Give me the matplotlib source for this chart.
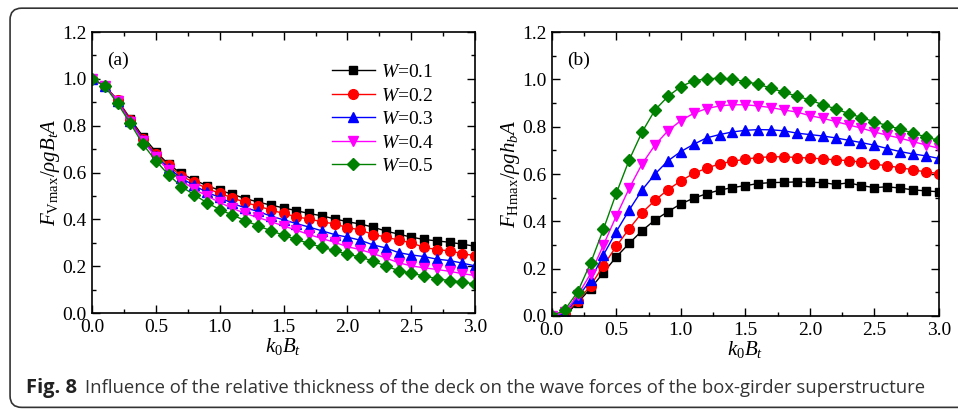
import numpy as np
import matplotlib
matplotlib.use("Agg")
import matplotlib.pyplot as plt
from matplotlib import font_manager as fm
from matplotlib.patches import FancyBboxPatch
from matplotlib.ticker import MultipleLocator, FormatStrFormatter

# pick up Liberation Serif by file, in case the family name lookup misses
for f in fm.findSystemFonts():
    if 'LiberationSerif' in f.replace(' ', ''):
        fm.fontManager.addfont(f)
serif_names = sorted({f.name for f in fm.fontManager.ttflist if 'Liberation Serif' in f.name})
serif = serif_names[0] if serif_names else 'DejaVu Serif'

plt.rcParams['font.family'] = [serif, 'DejaVu Serif']
plt.rcParams['mathtext.fontset'] = 'custom'
plt.rcParams['mathtext.rm'] = serif
plt.rcParams['mathtext.it'] = serif + ':italic'
plt.rcParams['mathtext.bf'] = serif + ':bold'

# k0*Bt values (same for every series)
kb = [0.0, 0.1, 0.2, 0.3, 0.4, 0.5, 0.6, 0.7, 0.8, 0.9, 1.0,
      1.1, 1.2, 1.3, 1.4, 1.5, 1.6, 1.7, 1.8, 1.9, 2.0,
      2.1, 2.2, 2.3, 2.4, 2.5, 2.6, 2.7, 2.8, 2.9, 3.0]

w_labels = ['0.1', '0.2', '0.3', '0.4', '0.5']

# (a) vertical force
fv_w1 = [1.0, 0.97, 0.91, 0.83, 0.753, 0.689, 0.635, 0.596, 0.568, 0.544, 0.524,
         0.507, 0.489, 0.474, 0.461, 0.449, 0.437, 0.425, 0.415, 0.402, 0.390,
         0.380, 0.367, 0.350, 0.337, 0.324, 0.314, 0.308, 0.302, 0.294, 0.285]
fv_w2 = [1.0, 0.97, 0.91, 0.825, 0.745, 0.68, 0.63, 0.585, 0.558, 0.532, 0.511,
         0.492, 0.472, 0.457, 0.440, 0.425, 0.411, 0.401, 0.390, 0.380, 0.365,
         0.355, 0.335, 0.325, 0.311, 0.300, 0.280, 0.271, 0.265, 0.254, 0.244]
fv_w3 = [1.0, 0.97, 0.905, 0.82, 0.74, 0.67, 0.62, 0.575, 0.545, 0.515, 0.494,
         0.468, 0.449, 0.434, 0.414, 0.398, 0.382, 0.367, 0.351, 0.335, 0.324,
         0.311, 0.291, 0.278, 0.258, 0.248, 0.241, 0.230, 0.224, 0.213, 0.201]
fv_w4 = [1.0, 0.97, 0.905, 0.815, 0.735, 0.665, 0.61, 0.565, 0.529, 0.50, 0.472,
         0.447, 0.425, 0.408, 0.390, 0.372, 0.354, 0.335, 0.318, 0.302, 0.283,
         0.271, 0.254, 0.235, 0.215, 0.201, 0.193, 0.186, 0.178, 0.168, 0.160]
fv_w5 = [1.0, 0.97, 0.895, 0.81, 0.72, 0.65, 0.59, 0.54, 0.505, 0.471, 0.442,
         0.418, 0.395, 0.372, 0.352, 0.332, 0.314, 0.297, 0.281, 0.267, 0.250,
         0.240, 0.221, 0.201, 0.181, 0.170, 0.158, 0.147, 0.138, 0.133, 0.123]

# (b) horizontal force
fh_w1 = [0.0, 0.0, 0.056, 0.116, 0.183, 0.25, 0.307, 0.361, 0.406, 0.441, 0.474,
         0.498, 0.517, 0.532, 0.543, 0.551, 0.560, 0.564, 0.565, 0.567, 0.565,
         0.564, 0.556, 0.563, 0.551, 0.543, 0.546, 0.541, 0.533, 0.529, 0.525]
fh_w2 = [0.0, 0.01, 0.063, 0.128, 0.213, 0.295, 0.369, 0.437, 0.489, 0.534, 0.571,
         0.603, 0.625, 0.643, 0.654, 0.663, 0.670, 0.673, 0.673, 0.670, 0.668,
         0.664, 0.660, 0.657, 0.650, 0.642, 0.635, 0.627, 0.618, 0.609, 0.602]
fh_w3 = [0.0, 0.01, 0.078, 0.152, 0.258, 0.357, 0.448, 0.533, 0.60, 0.656, 0.695,
         0.726, 0.753, 0.767, 0.778, 0.785, 0.788, 0.787, 0.783, 0.773, 0.767,
         0.761, 0.753, 0.743, 0.733, 0.722, 0.708, 0.695, 0.685, 0.677, 0.666]
fh_w4 = [0.0, 0.015, 0.087, 0.178, 0.30, 0.423, 0.54, 0.643, 0.723, 0.783, 0.826,
         0.857, 0.877, 0.888, 0.893, 0.893, 0.888, 0.881, 0.871, 0.862, 0.847,
         0.836, 0.822, 0.808, 0.794, 0.778, 0.764, 0.752, 0.737, 0.723, 0.709]
fh_w5 = [0.0, 0.025, 0.102, 0.223, 0.367, 0.519, 0.66, 0.778, 0.871, 0.928, 0.970,
         0.994, 1.003, 1.005, 1.001, 0.991, 0.980, 0.963, 0.946, 0.929, 0.914,
         0.893, 0.876, 0.856, 0.839, 0.821, 0.805, 0.790, 0.773, 0.757, 0.742]

colors = ['black', 'red', 'blue', 'magenta', 'green']
markers = ['s', 'o', '^', 'v', 'D']
msizes = [6, 7, 7, 7, 6]

fig = plt.figure(figsize=(9.58, 4.09), dpi=100)

# rounded frame around figure + caption (right side runs off the image)
frame = FancyBboxPatch((0.0105, 0.004), 1.2, 0.976, boxstyle='round,pad=0,rounding_size=0.012',
                       transform=fig.transFigure, fill=False, edgecolor='#333333',
                       linewidth=1.2, mutation_aspect=2.34)
fig.patches.append(frame)

ax1 = fig.add_axes([0.096, 0.2347, 0.400, 0.687])
ax2 = fig.add_axes([0.576, 0.2274, 0.404, 0.694])

for ax, series in [(ax1, [fv_w1, fv_w2, fv_w3, fv_w4, fv_w5]),
                   (ax2, [fh_w1, fh_w2, fh_w3, fh_w4, fh_w5])]:
    for ys, c, m, ms, lab in zip(series, colors, markers, msizes, w_labels):
        ax.plot(kb, ys, color=c, marker=m, markersize=ms, linewidth=1.0,
                label=r'$W$=' + lab)
    ax.set_xlim(0, 3.0)
    ax.set_ylim(0, 1.2)
    ax.xaxis.set_major_locator(MultipleLocator(0.5))
    ax.xaxis.set_minor_locator(MultipleLocator(0.25))
    ax.yaxis.set_major_locator(MultipleLocator(0.2))
    ax.yaxis.set_minor_locator(MultipleLocator(0.1))
    ax.xaxis.set_major_formatter(FormatStrFormatter('%.1f'))
    ax.yaxis.set_major_formatter(FormatStrFormatter('%.1f'))
    ax.tick_params(which='both', direction='in', top=True, right=True,
                   labelsize=14, pad=4)
    ax.tick_params(which='major', length=6, width=1)
    ax.tick_params(which='minor', length=3, width=1)
    for s in ax.spines.values():
        s.set_linewidth(1.2)
    ax.set_xlabel(r'$k_0B_t$', fontsize=15, labelpad=0.5)

ax1.set_ylabel(r'$F_{\mathrm{Vmax}}/\rho gB_tA$', fontsize=15, labelpad=0)
ax2.set_ylabel(r'$F_{\mathrm{Hmax}}/\rho gh_bA$', fontsize=15, labelpad=0)
ax1.text(0.04, 0.93, '(a)', transform=ax1.transAxes, fontsize=14, va='top')
ax2.text(0.04, 0.93, '(b)', transform=ax2.transAxes, fontsize=14, va='top')

ax1.legend(loc='upper right', bbox_to_anchor=(0.915, 0.915), frameon=False,
           fontsize=14, handlelength=2.2, labelspacing=0.3, handletextpad=0.35,
           borderaxespad=0)

fig.text(26 / 958, 0.052, 'Fig. 8', fontfamily='Open Sans', fontweight='bold',
         fontsize=14.5, va='center', color='#222222')
fig.text(85 / 958, 0.052,
         'Influence of the relative thickness of the deck on the wave forces of the box-girder superstructure',
         fontfamily='Open Sans', fontsize=13.3, va='center', color='#333333')

fig.savefig('out.png', dpi=100)
